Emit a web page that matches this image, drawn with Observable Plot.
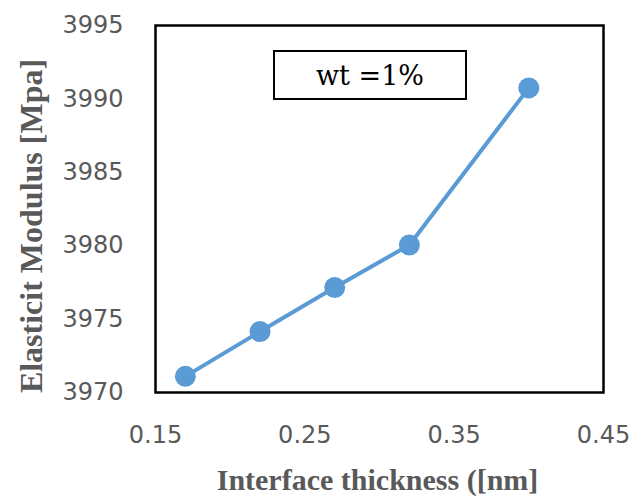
<!DOCTYPE html>
<html>
<head>
<meta charset="utf-8">
<script src="https://cdn.jsdelivr.net/npm/d3@7"></script>
<script src="https://cdn.jsdelivr.net/npm/@observablehq/plot@0.6"></script>
<style>
  html, body { margin: 0; padding: 0; background: #fff; }
  #wrap { position: relative; width: 632px; height: 497px; }
  #legend {
    position: absolute; left: 273px; top: 50px; width: 194px; height: 50px;
    box-sizing: border-box; border: 2.5px solid #000; background: #fff;
    font-family: "DejaVu Serif", serif; font-size: 27px; color: #000;
    display: flex; align-items: center; justify-content: center; line-height: 1;
  }
</style>
</head>
<body>
<div id="wrap"></div>
<script>
const thickness = [0.17, 0.22, 0.27, 0.32, 0.40];
const modulus = [3971.1, 3974.15, 3977.15, 3980.05, 3990.75];
const xTicks = [0.15, 0.25, 0.35, 0.45];
const yTicks = [3970, 3975, 3980, 3985, 3990, 3995];
const xTitle = "Interface thickness ([nm]";
const yTitle = "Elasticit Modulus [Mpa]";
const legendLabel = "wt =1%";

const data = thickness.map((t, i) => ({t, m: modulus[i]}));

const chart = Plot.plot({
  width: 632,
  height: 497,
  marginLeft: 155,
  marginRight: 29,
  marginTop: 25,
  marginBottom: 105,
  style: {fontFamily: "DejaVu Sans", fontSize: "24px", color: "#595959", background: "#fff", overflow: "visible"},
  x: {domain: [0.15, 0.45], ticks: xTicks, tickFormat: d3.format(".2f"), tickSize: 0, tickPadding: 33, label: null},
  y: {domain: [3970, 3995], ticks: yTicks, tickFormat: d3.format("d"), tickSize: 0, tickPadding: 32, label: null},
  marks: [
    Plot.frame({stroke: "#000", strokeWidth: 2.5}),
    Plot.line(data, {x: "t", y: "m", stroke: "#5B9BD5", strokeWidth: 4}),
    Plot.dot(data, {x: "t", y: "m", r: 10.5, fill: "#5B9BD5", stroke: "none"}),
    Plot.text([xTitle], {frameAnchor: "bottom", lineAnchor: "bottom", textAnchor: "middle", dy: 97, dx: -2, fontFamily: "Liberation Serif", fontWeight: "bold", fontSize: 30, fill: "#595959"}),
    Plot.text([yTitle], {frameAnchor: "left", lineAnchor: "bottom", textAnchor: "middle", rotate: -90, dx: -114, dy: 17, fontFamily: "Liberation Serif", fontWeight: "bold", fontSize: 32, fill: "#595959"})
  ]
});
const wrap = document.getElementById("wrap");
wrap.appendChild(chart);
const legend = document.createElement("div");
legend.id = "legend";
legend.textContent = legendLabel;
wrap.appendChild(legend);
</script>
</body>
</html>
